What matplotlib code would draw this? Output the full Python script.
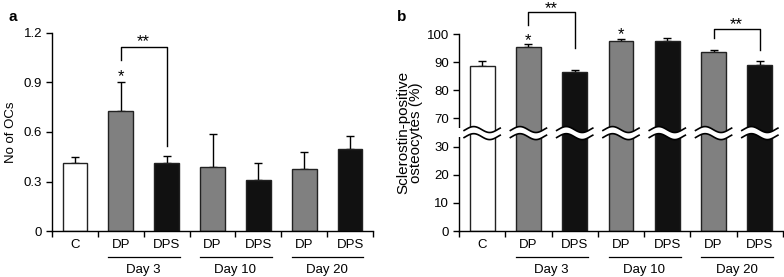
import numpy as np
import matplotlib
matplotlib.use("Agg")
import matplotlib.pyplot as plt
from matplotlib.patches import Polygon, Rectangle

plt.rcParams['font.family'] = ['Liberation Sans', 'DejaVu Sans']

# ---------------- data ----------------
categories = ["C", "DP", "DPS", "DP", "DPS", "DP", "DPS"]
groups = [("Day 3", 1, 2), ("Day 10", 3, 4), ("Day 20", 5, 6)]
bar_colors = ["white", "#808080", "#111111", "#808080", "#111111", "#808080", "#111111"]

ocs_mean = [0.41, 0.73, 0.415, 0.385, 0.31, 0.375, 0.50]
ocs_err = [0.04, 0.176, 0.041, 0.203, 0.104, 0.105, 0.076]
ocs_ticks = [0, 0.3, 0.6, 0.9, 1.2]
ocs_ticklabels = ["0", "0.3", "0.6", "0.9", "1.2"]
ocs_stars = [(1, 0.966, "*")]
ocs_brackets = [(1, 2, 1.116, 1.038, 0.516, 1.176, "**")]

scl_mean = [88.6, 95.3, 86.4, 97.5, 97.4, 93.5, 88.9]
scl_err = [1.7, 1.0, 0.7, 0.6, 1.1, 0.7, 1.4]
scl_ticks = [0, 10, 20, 30, 70, 80, 90, 100]
scl_stars = [(1, 99.6, "*"), (3, 101.4, "*")]
scl_brackets = [(1, 2, 107.9, 103.2, 95.0, 110.8, "**"),
                (5, 6, 101.8, 98.6, 94.3, 105.2, "**")]

FS = 9.5
STAR_FS = 12
W = 0.54


def fwd(v):
    v = np.asarray(v, float)
    return np.where(v <= 30, v, np.where(v >= 70, v - 30, 30 + (v - 30) / 4.0))


def inv(u):
    u = np.asarray(u, float)
    return np.where(u <= 30, u, np.where(u >= 40, u + 30, 30 + (u - 30) * 4.0))


fig = plt.figure(figsize=(7.84, 2.77), dpi=100)
ax_a = fig.add_axes([52 / 784, 46 / 277, 321 / 784, 198 / 277])
ax_b = fig.add_axes([459 / 784, 46 / 277, 324 / 784, 197 / 277])


def style(ax, means, errs):
    x = np.arange(len(categories))
    ax.errorbar(x, means, yerr=[np.zeros(len(errs)), errs], fmt='none',
                ecolor='black', elinewidth=1.0, capsize=3.2, capthick=1.0, zorder=1)
    ax.bar(x, means, width=W, color=bar_colors, edgecolor='#222222',
           linewidth=1.0, zorder=2)
    ax.set_xlim(-0.5, 6.5)
    for s in ['top', 'right']:
        ax.spines[s].set_visible(False)
    for s in ['left', 'bottom']:
        ax.spines[s].set_linewidth(1.0)
    ax.set_xticks(np.arange(-0.5, 7, 1))
    ax.set_xticklabels([])
    ax.set_xticks(x, minor=True)
    ax.set_xticklabels(categories, minor=True, fontsize=FS)
    ax.tick_params(axis='x', which='major', direction='out', length=4, width=1)
    ax.tick_params(axis='x', which='minor', length=0, pad=6)
    ax.tick_params(axis='y', direction='out', length=4, width=1, labelsize=FS, pad=3)
    tr = ax.get_xaxis_transform()
    for name, i, j in groups:
        ax.plot([i - 0.27, j + 0.29], [-0.131, -0.131], color='black', lw=0.9,
                transform=tr, clip_on=False)
        ax.text((i + j) / 2, -0.197, name, transform=tr, ha='center', va='center',
                fontsize=FS)


def star(ax, x, y, s):
    # y is the visual centre of the asterisk glyph; shift baseline below it
    ax.annotate(s, xy=(x, y), xytext=(0, -0.57 * STAR_FS), textcoords='offset points',
                ha='center', va='baseline', fontsize=STAR_FS, annotation_clip=False)


def annotate(ax, stars, brackets):
    for i, y, s in stars:
        star(ax, i, y, s)
    for i, j, top, yl, yr, ys, s in brackets:
        ax.plot([i, i, j, j], [yl, top, top, yr], color='black', lw=1.0,
                clip_on=False, zorder=3)
        star(ax, (i + j) / 2, ys, s)


# panel a
style(ax_a, ocs_mean, ocs_err)
ax_a.set_ylim(0, 1.2)
ax_a.set_yticks(ocs_ticks)
ax_a.set_yticklabels(ocs_ticklabels)
ax_a.set_ylabel("No of OCs", fontsize=FS, labelpad=5)
annotate(ax_a, ocs_stars, ocs_brackets)
fig.text(13 / 784, 1 - 17 / 277, "a", fontsize=11, fontweight='bold',
         ha='center', va='center')

# panel b
ax_b.set_yscale('function', functions=(fwd, inv))
style(ax_b, scl_mean, scl_err)
ax_b.set_ylim(0, 100)
ax_b.set_yticks(scl_ticks)
ax_b.set_yticklabels([str(t) for t in scl_ticks])
ax_b.set_ylabel("Sclerostin-positive\nosteocytes (%)", fontsize=11, labelpad=3,
                linespacing=0.88)
annotate(ax_b, scl_stars, scl_brackets)
fig.text(402 / 784, 1 - 17 / 277, "b", fontsize=11, fontweight='bold',
         ha='center', va='center')

# axis break waves
trb = ax_b.get_xaxis_transform()
yc, off, amp = 0.497, 0.018, 0.015


def wave_band(xl, xr, lw=1.2, z=6):
    t = np.linspace(-0.05, 1.08, 60)
    xs = xl + (xr - xl) * (t + 0.05) / 1.13
    up = yc + off + amp * np.sin(2 * np.pi * t)
    lo = yc - off + amp * np.sin(2 * np.pi * t)
    verts = np.concatenate([np.column_stack([xs, up]), np.column_stack([xs[::-1], lo[::-1]])])
    ax_b.add_patch(Polygon(verts, closed=True, facecolor='white', edgecolor='none',
                           transform=trb, clip_on=False, zorder=z))
    ax_b.plot(xs, up, color='black', lw=lw, transform=trb, clip_on=False, zorder=z + 0.1)
    ax_b.plot(xs, lo, color='black', lw=lw, transform=trb, clip_on=False, zorder=z + 0.1)


for i in range(len(categories)):
    wave_band(i - W / 2 - 0.12, i + W / 2 + 0.12)

# gap in the y axis line at the break
ax_b.add_patch(Rectangle((-0.01, 0.477), 0.02, 0.046, transform=ax_b.transAxes,
                         facecolor='white', edgecolor='none', clip_on=False, zorder=7))

fig.savefig("out.png", dpi=100)
